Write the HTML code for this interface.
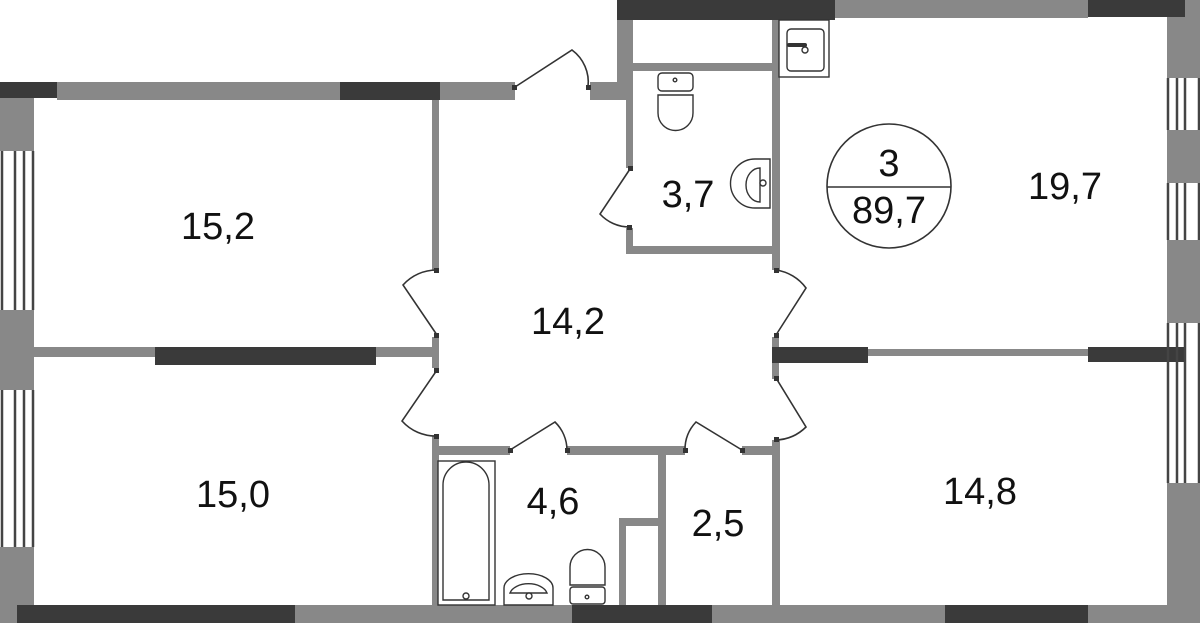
<!DOCTYPE html>
<html><head><meta charset="utf-8"><style>
html,body{margin:0;padding:0;background:#fff}
svg{display:block}
text{font-family:"Liberation Sans",sans-serif;fill:#111}
</style></head><body>
<svg width="1200" height="623" viewBox="0 0 1200 623" xmlns="http://www.w3.org/2000/svg">
<g fill="#888">
<rect x="57" y="82" width="283" height="18"/>
<rect x="440" y="82" width="75" height="18"/>
<rect x="590" y="82" width="43" height="18"/>
<rect x="0" y="97" width="34" height="54"/>
<rect x="0" y="310" width="34" height="80"/>
<rect x="0" y="547" width="34" height="76"/>
<rect x="295" y="605" width="277" height="18"/>
<rect x="712" y="605" width="233" height="18"/>
<rect x="1088" y="605" width="80" height="18"/>
<rect x="1167" y="17" width="33" height="61"/>
<rect x="1167" y="130" width="33" height="53"/>
<rect x="1167" y="240" width="33" height="83"/>
<rect x="1167" y="483" width="33" height="140"/>
<rect x="835" y="0" width="253" height="18"/>
<rect x="1185" y="0" width="15" height="18"/>
<rect x="617" y="18" width="16" height="82"/>
<rect x="633" y="63" width="139" height="8"/>
<rect x="772" y="18" width="8" height="252"/>
<rect x="626" y="100" width="7" height="68"/>
<rect x="626" y="228" width="7" height="26"/>
<rect x="626" y="246" width="146" height="8"/>
<rect x="432" y="100" width="7" height="170"/>
<rect x="34" y="347" width="398" height="10"/>
<rect x="432" y="337" width="7" height="31"/>
<rect x="432" y="436" width="7" height="169"/>
<rect x="772" y="337" width="7" height="42"/>
<rect x="868" y="349" width="220" height="7"/>
<rect x="772" y="440" width="8" height="165"/>
<rect x="432" y="446" width="78" height="9"/>
<rect x="567" y="446" width="118" height="9"/>
<rect x="742" y="446" width="35" height="9"/>
<rect x="658" y="455" width="8" height="150"/>
<rect x="619" y="518" width="40" height="8"/>
<rect x="619" y="518" width="7" height="87"/>
</g>
<g fill="#3a3a3a">
<rect x="0" y="82" width="57" height="16"/>
<rect x="340" y="82" width="100" height="18"/>
<rect x="617" y="0" width="218" height="20"/>
<rect x="1088" y="0" width="97" height="17"/>
<rect x="17" y="605" width="278" height="18"/>
<rect x="572" y="605" width="140" height="18"/>
<rect x="945" y="605" width="143" height="18"/>
<rect x="155" y="347" width="221" height="18"/>
<rect x="772" y="347" width="96" height="16"/>
<rect x="1088" y="347" width="97" height="15"/>
</g>
<g stroke="#444" stroke-width="2.5" fill="none">
<path d="M2 151V310M15 151V310M24 151V310M33 151V310M2 390V547M15 390V547M24 390V547M33 390V547"/>
<path d="M1168 78V130M1177 78V130M1185 78V130M1199 78V130M1168 183V240M1177 183V240M1185 183V240M1199 183V240M1168 323V483M1177 323V483M1185 323V483M1199 323V483"/>
</g>
<g stroke="#333" stroke-width="1.6" fill="none">
<path d="M515 87L572 50A40 40 0 0 1 588 87"/>
<path d="M630 169L600 214A40 40 0 0 0 629 227"/>
<path d="M437 335L403 285A45 45 0 0 1 437 270"/>
<path d="M437 370L402 421A45 45 0 0 0 437 436"/>
<path d="M776 335L806 288A45 45 0 0 0 776 270"/>
<path d="M776 378L806 427A45 45 0 0 1 776 440"/>
<path d="M510 450L555 422A40 40 0 0 1 567 450"/>
<path d="M742 450L696 422A40 40 0 0 0 685 450"/>
</g>
<g fill="#333">
<rect x="512" y="85" width="5" height="5"/><rect x="586" y="85" width="5" height="5"/>
<rect x="628" y="166" width="5" height="5"/><rect x="627" y="225" width="5" height="5"/>
<rect x="434" y="268" width="5" height="5"/><rect x="434" y="333" width="5" height="5"/>
<rect x="434" y="368" width="5" height="5"/><rect x="434" y="434" width="5" height="5"/>
<rect x="774" y="268" width="5" height="5"/><rect x="774" y="333" width="5" height="5"/>
<rect x="774" y="376" width="5" height="5"/><rect x="774" y="437" width="5" height="5"/>
<rect x="508" y="448" width="5" height="5"/><rect x="565" y="448" width="5" height="5"/>
<rect x="683" y="448" width="5" height="5"/><rect x="740" y="448" width="5" height="5"/>
</g>
<g stroke="#333" stroke-width="1.4" fill="#fff">
<rect x="779" y="20" width="50" height="57"/>
<rect x="787" y="29" width="37" height="42" rx="4"/>
<path d="M789 45H805" stroke-width="4" stroke-linecap="round"/>
<circle cx="805" cy="50" r="3"/>
<rect x="658" y="73" width="35" height="18" rx="4"/>
<path d="M658 95H693V113A17.5 17.5 0 0 1 658 113Z"/>
<circle cx="675" cy="80" r="1.8"/>
<path d="M770 159H755A20 20 0 0 0 755 208H770Z"/>
<path d="M760 168V202A14 17 0 0 1 760 168Z"/>
<circle cx="763" cy="183" r="3"/>
<rect x="438" y="461" width="57" height="144"/>
<path d="M443 600V485A23 23 0 0 1 489 485V600Z"/>
<circle cx="466" cy="596" r="3"/>
<path d="M504 605V588A24 14 0 0 1 553 588V605Z"/>
<path d="M510 593A19 12 0 0 1 547 593Z"/>
<circle cx="529" cy="596" r="3"/>
<path d="M570 585V567A17.5 17.5 0 0 1 605 567V585Z"/>
<rect x="570" y="587" width="35" height="17" rx="3"/>
<circle cx="587" cy="597" r="1.8"/>
</g>
<circle cx="889" cy="186" r="62" stroke="#333" stroke-width="1.6" fill="none"/>
<line x1="827" y1="187" x2="951" y2="187" stroke="#333" stroke-width="1.6"/>
<g font-size="38" text-anchor="middle">
<text x="889" y="176">3</text>
<text x="889" y="223">89,7</text>
<text x="218" y="239">15,2</text>
<text x="568" y="334">14,2</text>
<text x="688" y="207">3,7</text>
<text x="1065" y="199">19,7</text>
<text x="233" y="507">15,0</text>
<text x="553" y="514">4,6</text>
<text x="718" y="536">2,5</text>
<text x="980" y="504">14,8</text>
</g>
</svg>
</body></html>
